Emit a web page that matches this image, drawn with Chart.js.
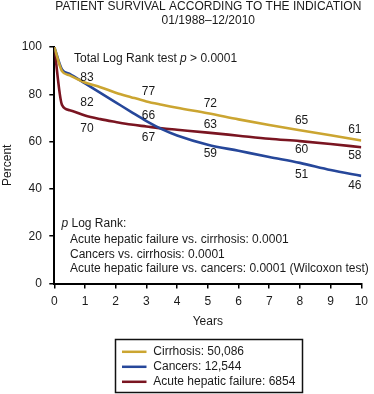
<!DOCTYPE html>
<html><head><meta charset="utf-8">
<script src="https://cdn.jsdelivr.net/npm/chart.js@4/dist/chart.umd.min.js"></script>
<style>html,body{margin:0;padding:0;background:#fff}#wrap{width:374px;height:394px;position:relative}</style>
</head><body><div id="wrap"><canvas id="c" width="374" height="394"></canvas></div>
<script>
// ---- data ----
const years = [0, 0.25, 0.5, 1, 1.5, 2, 2.5, 3, 3.5, 4, 5, 6, 7, 8, 9, 10];
const cirrhosis = [100, 89.8, 88, 85, 83, 80.7, 78.8, 77, 75.6, 74.3, 72, 69.4, 67, 64.8, 62.7, 60.5];
const cancers = [100, 90.5, 88.6, 84.6, 80.6, 76.6, 72.6, 68.7, 65.3, 62.6, 58.7, 56.1, 53.5, 51, 48, 45.5];
const acuteHepaticFailure = [100, 75.5, 73.3, 71, 69.5, 68.3, 67.2, 66.4, 65.6, 65, 63.8, 62.5, 61.2, 60.2, 59, 57.6];

const labelYears = [1, 3, 5, 8, 10];
const cirrhosisLabels = [83, 77, 72, 65, 61];
const cancersLabels = [82, 66, 59, 51, 46];
const ahfLabels = [70, 67, 63, 60, 58];

const seriesNames = ['Cirrhosis: 50,086', 'Cancers: 12,544', 'Acute hepatic failure: 6854'];
const xTickValues = [0, 1, 2, 3, 4, 5, 6, 7, 8, 9, 10];
const yTickValues = [0, 20, 40, 60, 80, 100];

const titleLines = ['PATIENT SURVIVAL ACCORDING TO THE INDICATION', '01/1988\u201312/2010'];

// ---- style ----
const FAM = '"Liberation Sans", Arial, Helvetica, sans-serif';
const FONT = '12px ' + FAM;
const TXT = '#1a1a1a';
const colors = ['#CBA531', '#26479A', '#7A1521'];
const labelOffsets = [
  [-10, -10, -10, -9, -10],
  [13.5, -11.5, 10, 11.5, 10.5],
  [10.5, 12.5, -9.5, 8, 9]
];
const labelDx = [2, 2, 2.5, 1.7, -6.5];

function pts(vals) { return years.map((x, i) => ({x: x, y: vals[i]})); }

function drawRuns(ctx, runs, x, y) {
  for (const [t, it] of runs) {
    ctx.font = (it ? 'italic ' : '') + FONT;
    ctx.fillText(t, x, y);
    x += ctx.measureText(t).width;
  }
}

const overlay = {
  id: 'overlay',
  afterDatasetsDraw(chart) {
    const ctx = chart.ctx, xs = chart.scales.x, ys = chart.scales.y;
    const allLabels = [cirrhosisLabels, cancersLabels, ahfLabels];
    ctx.save();
    ctx.fillStyle = TXT;
    ctx.font = FONT;
    ctx.textAlign = 'center';
    ctx.textBaseline = 'middle';
    allLabels.forEach((arr, s) => {
      arr.forEach((v, i) => {
        const px = xs.getPixelForValue(labelYears[i]) + labelDx[i];
        const py = ys.getPixelForValue(v) + labelOffsets[s][i];
        ctx.fillText(String(v), px, py);
      });
    });
    ctx.restore();
  },
  afterDraw(chart) {
    const ctx = chart.ctx;
    ctx.save();
    ctx.fillStyle = TXT;
    ctx.font = FONT;
    ctx.textBaseline = 'middle';
    ctx.textAlign = 'center';
    const cx = (chart.chartArea.left + chart.chartArea.right) / 2 + 0.5;
    ctx.fillText(titleLines[0], cx, 6.5);
    ctx.fillText(titleLines[1], cx, 20.5);

    ctx.textAlign = 'left';
    drawRuns(ctx, [['Total Log Rank test ', false], ['p', true], [' > 0.0001', false]], 74, 58.5);
    drawRuns(ctx, [['p', true], [' Log Rank:', false]], 61.5, 223.5);
    ctx.font = FONT;
    ctx.fillText('Acute hepatic failure vs. cirrhosis: 0.0001', 70, 240);
    ctx.fillText('Cancers vs. cirrhosis: 0.0001', 70, 254.2);
    ctx.fillText('Acute hepatic failure vs. cancers: 0.0001 (Wilcoxon test)', 70, 268.5);

    // legend box
    ctx.strokeStyle = '#111';
    ctx.lineWidth = 1.5;
    ctx.strokeRect(115.5, 339.5, 187, 53);
    const rowsY = [351.8, 366.8, 381.8];
    seriesNames.forEach((n, i) => {
      ctx.strokeStyle = colors[i];
      ctx.lineWidth = 2.5;
      ctx.beginPath();
      ctx.moveTo(122, rowsY[i]);
      ctx.lineTo(146.5, rowsY[i]);
      ctx.stroke();
      ctx.fillStyle = TXT;
      ctx.fillText(n, 153.3, rowsY[i]);
    });
    ctx.restore();
  }
};

const axisFont = {family: FAM, size: 12};

new Chart(document.getElementById('c'), {
  type: 'line',
  data: {
    datasets: [
      {label: seriesNames[0], data: pts(cirrhosis), borderColor: colors[0]},
      {label: seriesNames[1], data: pts(cancers), borderColor: colors[1]},
      {label: seriesNames[2], data: pts(acuteHepaticFailure), borderColor: colors[2]}
    ].map(d => Object.assign(d, {borderWidth: 2.6, pointRadius: 0, fill: false, cubicInterpolationMode: 'monotone'}))
  },
  options: {
    responsive: false,
    animation: false,
    devicePixelRatio: 1,
    layout: {padding: {top: 47, right: 11.3, bottom: 65.5, left: 0}},
    plugins: {legend: {display: false}, tooltip: {enabled: false}, title: {display: false}},
    scales: {
      x: {
        type: 'linear', min: 0, max: 10, position: 'bottom',
        afterFit: s => { s.height = 45; },
        afterBuildTicks: s => { s.ticks = xTickValues.map(v => ({value: v})); },
        ticks: {padding: 6, color: TXT, font: axisFont, maxRotation: 0, autoSkip: false},
        grid: {display: true, drawOnChartArea: false, drawTicks: true, tickLength: 5, color: '#000', lineWidth: 1.5},
        border: {display: true, color: '#000', width: 2},
        title: {display: true, text: 'Years', color: TXT, font: axisFont, padding: {top: 0, bottom: 0}}
      },
      y: {
        type: 'linear', min: 0, max: 100,
        afterFit: s => { s.width = 54.3; },
        afterBuildTicks: s => { s.ticks = yTickValues.map(v => ({value: v})); },
        ticks: {padding: 7.5, color: TXT, font: axisFont},
        grid: {display: true, drawOnChartArea: false, drawTicks: true, tickLength: 5, color: '#000', lineWidth: 1.5},
        border: {display: true, color: '#000', width: 2},
        title: {display: true, text: 'Percent', color: TXT, font: axisFont, padding: {top: 0, bottom: 0}}
      }
    }
  },
  plugins: [overlay]
});
</script>
</body></html>
